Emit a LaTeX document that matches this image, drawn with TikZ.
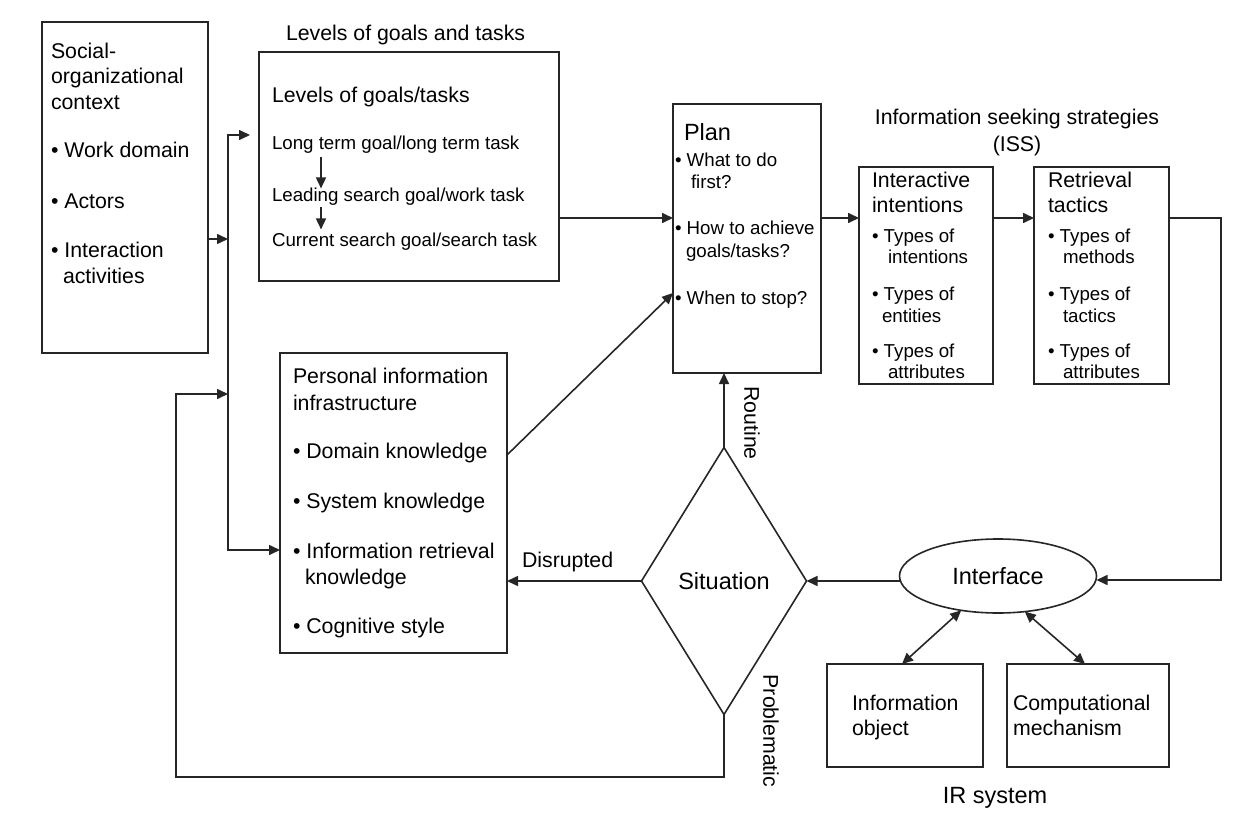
\documentclass[tikz,border=0pt]{standalone}
\usepackage{fontspec}
\setmainfont{Liberation Sans}
\usetikzlibrary{arrows.meta,shapes.geometric}
\begin{document}
\begin{tikzpicture}[x=1pt,y=-1pt,
  every node/.style={inner sep=0pt, outer sep=0pt},
  box/.style={draw=black!85, line width=1.6pt, anchor=north west},
  M/.style={font=\fontsize{21.3pt}{25pt}\selectfont, anchor=base west},
  S/.style={font=\fontsize{18.7pt}{22pt}\selectfont, anchor=base west},
  B/.style={font=\fontsize{23.5pt}{28pt}\selectfont},
  line/.style={draw=black!85, line width=1.6pt},
  arr/.style={line, -{Triangle[length=11pt,width=10pt]}},
  darr/.style={line, {Triangle[length=11pt,width=10pt]}-{Triangle[length=11pt,width=10pt]}}]
\useasboundingbox (0,0) rectangle (1258,813);

% ---------- boxes ----------
\node[box, minimum width=166pt, minimum height=331pt] (soc) at (42,22) {};
\node[box, minimum width=300pt, minimum height=229pt] (lev) at (259,52) {};
\node[box, minimum width=148pt, minimum height=269pt] (plan) at (673,104) {};
\node[box, minimum width=134pt, minimum height=217pt] (ii) at (859,167) {};
\node[box, minimum width=135pt, minimum height=217pt] (rt) at (1034,167) {};
\node[box, minimum width=227pt, minimum height=300pt] (pii) at (280,353) {};
\node[box, minimum width=156pt, minimum height=103pt] (io) at (827,664) {};
\node[box, minimum width=162pt, minimum height=103pt] (cm) at (1007,664) {};
\node[draw=black!85, line width=1.6pt, ellipse, minimum width=197pt, minimum height=74pt, B] (ifc) at (998,576) {Interface};
\node[draw=black!85, line width=1.6pt, diamond, minimum width=165pt, minimum height=267pt, B] (sit) at (724,581) {Situation};

% ---------- texts ----------
\node[M] (s1) at (51,59) {Social-};
\node[M] (s2) at (51,84) {organizational};
\node[M] (s3) at (51,110) {context};
\node[M] (s4) at (51,158) {• Work domain};
\node[M] (s5) at (51,208) {• Actors};
\node[M] (s6) at (51,257) {• Interaction};
\node[M] (s7) at (63,283) {activities};

\node[M] (levt) at (286,41) {Levels of goals and tasks};
\node[M] (l0) at (272,103) {Levels of goals/tasks};
\node[S] (l1) at (272,150) {Long term goal/long term task};
\node[S] (l2) at (272,202) {Leading search goal/work task};
\node[S] (l3) at (272,247) {Current search goal/search task};

\node[B, anchor=base west] (p0) at (684,141) {Plan};
\node[S] (p1) at (675,167) {• What to do};
\node[S] (p2) at (691,189) {first?};
\node[S] (p3) at (675,235) {• How to achieve};
\node[S] (p4) at (686,257) {goals/tasks?};
\node[S] (p5) at (675,304) {• When to stop?};

\node[M, anchor=base] (iss1) at (1017,125) {Information seeking strategies};
\node[M, anchor=base] (iss2) at (1017,152) {(ISS)};

\node[M] (i1) at (872,188) {Interactive};
\node[M] (i2) at (872,213) {intentions};
\node[S] (i3) at (872,243) {• Types of};
\node[S] (i4) at (888,263) {intentions};
\node[S] (i5) at (872,300) {• Types of};
\node[S] (i6) at (882,322) {entities};
\node[S] (i7) at (872,357) {• Types of};
\node[S] (i8) at (888,378) {attributes};

\node[M] (r1) at (1048,188) {Retrieval};
\node[M] (r2) at (1048,213) {tactics};
\node[S] (r3) at (1048,243) {• Types of};
\node[S] (r4) at (1063,263) {methods};
\node[S] (r5) at (1048,300) {• Types of};
\node[S] (r6) at (1063,322) {tactics};
\node[S] (r7) at (1048,357) {• Types of};
\node[S] (r8) at (1063,378) {attributes};

\node[M] (q1) at (293,383) {Personal information};
\node[M] (q2) at (293,410) {infrastructure};
\node[M] (q3) at (293,458) {• Domain knowledge};
\node[M] (q4) at (293,508) {• System knowledge};
\node[M] (q5) at (293,558) {• Information retrieval};
\node[M] (q6) at (305,584) {knowledge};
\node[M] (q7) at (293,633) {• Cognitive style};

\node[M] (dis) at (522,567) {Disrupted};
\node[M, anchor=center, rotate=-90] (rou) at (752,423) {Routine};
\node[M, anchor=center, rotate=-90] (pro) at (771,731) {Problematic};

\node[M] (o1) at (852,710) {Information};
\node[M] (o2) at (852,735) {object};
\node[M] (c1) at (1013,710) {Computational};
\node[M] (c2) at (1013,735) {mechanism};
\node[B, anchor=base] (irs) at (995,803) {IR system};

% ---------- coordinates ----------
\coordinate (bt) at (228,135);
\coordinate (lt) at (250,135);
\coordinate (bs) at (228,239);
\coordinate (bf) at (228,394);
\coordinate (bb) at (228,550);
\coordinate (fb) at (176,777);
\coordinate (y218) at (0,218);
\coordinate (rc) at (1221,580);
\coordinate (pa) at (507,455);
\coordinate (pb) at (673,293);

% ---------- connectors ----------
\draw[arr] (bb) -- (bt) -- (lt);
\draw[arr] (bs) -- (bb) -- (pii.west |- bb);
\draw[arr] (soc.east |- bs) -- (bs);
\draw[arr] (sit.south) |- (fb) |- (bf);

\draw[arr, shorten <=3pt] ([xshift=49pt]l1.south west) -- ([xshift=49pt]l2.north west);
\draw[arr, shorten <=1pt, shorten >=4pt] ([xshift=49pt]l2.south west) -- ([xshift=49pt]l3.north west);

\draw[arr] (lev.east |- y218) -- (plan.west |- y218);
\draw[arr] (plan.east |- y218) -- (ii.west |- y218);
\draw[arr] (ii.east |- y218) -- (rt.west |- y218);
\draw[arr] (rt.east |- y218) -| (rc) -- (ifc.east |- rc);
\draw[arr] (ifc.west |- sit.east) -- (sit.east);
\draw[arr] (sit.west) -- (pii.east |- sit.west);
\draw[arr] (sit.north) -- (plan.south -| sit.north);
\draw[arr] (pii.east |- pa) -- (plan.west |- pb);

\draw[darr] (ifc.-137) -- ([xshift=-3pt]io.north);
\draw[darr] (ifc.-53) -- ([xshift=-3pt]cm.north);
\end{tikzpicture}
\end{document}
